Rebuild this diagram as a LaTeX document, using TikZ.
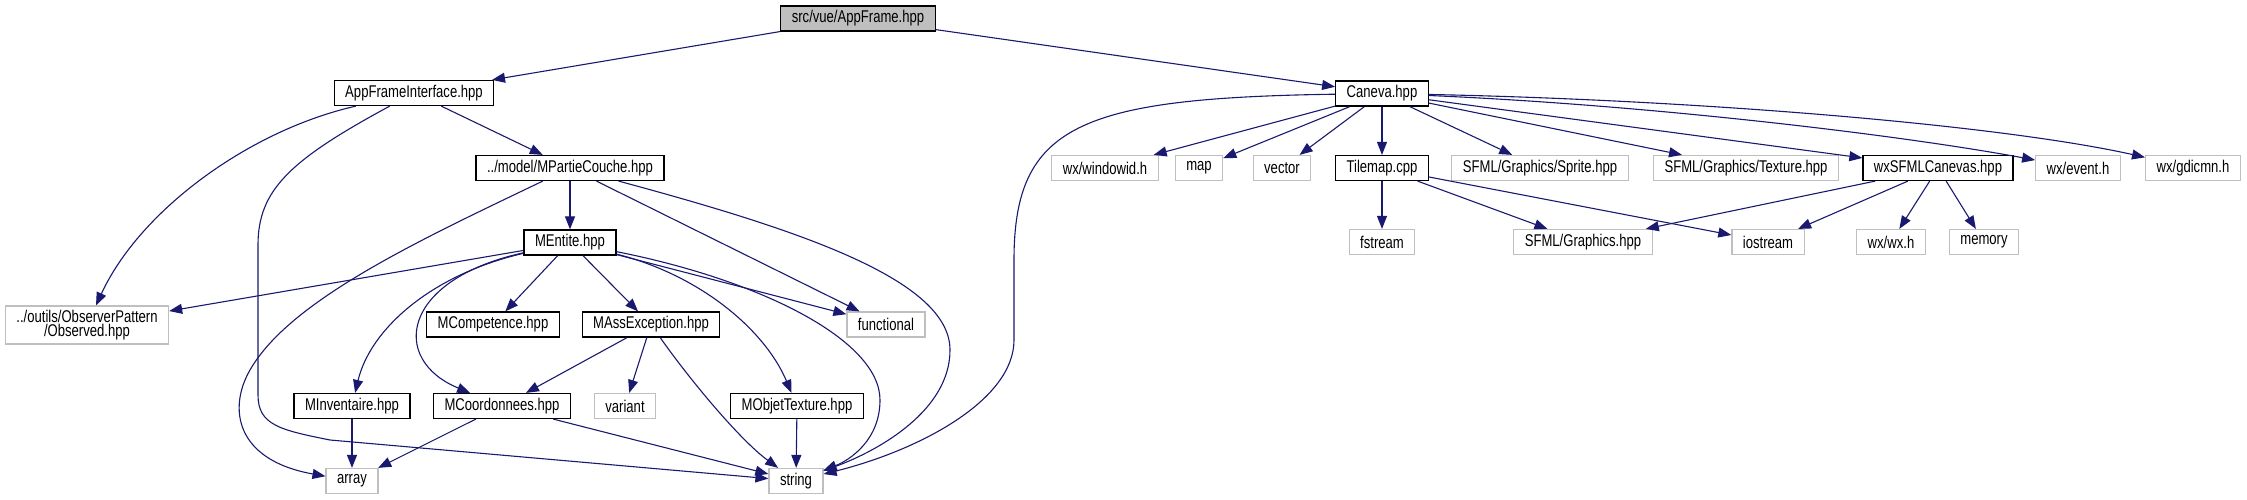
\documentclass[tikz,border=0pt]{standalone}
\usepackage{fontspec}
\setmainfont{Liberation Sans}[FakeStretch=0.77]
\usetikzlibrary{
  arrows.meta % 箭头样式
}
\definecolor{edgeblue}{HTML}{191970}
\definecolor{extgray}{HTML}{BFBFBF}
\tikzset{
  file box/.style={
    draw=black,
    fill=white,
    line width=1.2pt,
    minimum height=25pt,
    inner xsep=11pt,
    inner ysep=3pt,
    font=\fontsize{17}{14}\selectfont
  },
  main box/.style={
    file box,
    fill=extgray
  },
  ext box/.style={
    file box,
    draw=extgray
  },
  dep/.style={
    -{Triangle[length=13pt,width=10pt]},
    color=edgeblue,
    line width=1.1pt
  }
}

\begin{document}
\begin{tikzpicture}[x=1pt, y=-1pt]
  \useasboundingbox (0,0) rectangle (2247,500);

  % ======================= 节点 =======================
  \node[main box] (main) at (858,18.5) {src/vue/AppFrame.hpp};

  \node[file box] (afi)    at (414,93)   {AppFrameInterface.hpp};
  \node[file box] (caneva) at (1382,93.5) {Caneva.hpp};

  \node[file box] (mpc)      at (570,168)  {../model/MPartieCouche.hpp};
  \node[ext box]  (windowid) at (1105,168) {wx/windowid.h};
  \node[ext box]  (map)      at (1199,168) {map};
  \node[ext box]  (vector)   at (1282,168) {vector};
  \node[file box] (tilemap)  at (1382,168) {Tilemap.cpp};
  \node[ext box]  (sprite)   at (1540,168) {SFML/Graphics/Sprite.hpp};
  \node[ext box]  (texture)  at (1746,168) {SFML/Graphics/Texture.hpp};
  \node[file box] (wxsfml)   at (1938,168) {wxSFMLCanevas.hpp};
  \node[ext box]  (event)    at (2078,168) {wx/event.h};
  \node[ext box]  (gdicmn)   at (2193,168) {wx/gdicmn.h};

  \node[file box] (mentite)  at (570,242.5) {MEntite.hpp};
  \node[ext box]  (fstream)  at (1382,242) {fstream};
  \node[ext box]  (graphics) at (1583,242) {SFML/Graphics.hpp};
  \node[ext box]  (iostream) at (1768,242) {iostream};
  \node[ext box]  (wxwx)     at (1891,242) {wx/wx.h};
  \node[ext box]  (memory)   at (1984,242) {memory};

  \node[ext box, align=center, inner ysep=4pt] (obs) at (87,325)
    {../outils/ObserverPattern\\/Observed.hpp};
  \node[file box] (mcomp) at (493,324.5) {MCompetence.hpp};
  \node[file box] (mass)  at (651,324.5) {MAssException.hpp};
  \node[ext box]  (func)  at (886,324.5) {functional};

  \node[file box] (minv)    at (352,406) {MInventaire.hpp};
  \node[file box] (mcoord)  at (502,406) {MCoordonnees.hpp};
  \node[ext box]  (variant) at (625,406) {variant};
  \node[file box] (mobj)    at (797,406) {MObjetTexture.hpp};

  \node[ext box] (array)  at (352,481) {array};
  \node[ext box] (string) at (796,481) {string};

  % ======================= 左侧依赖 =======================
  \draw[dep] (main) -- (afi);
  \draw[dep] (afi) .. controls (250,130) and (140,210) .. (obs);
  \draw[dep] (afi) .. controls (290,160) and (258,190) .. (258,245)
    -- (258,395) .. controls (258,425) and (280,430) .. (330,440) -- (string);
  \draw[dep] (afi) -- (mpc);

  \draw[dep] (mpc) .. controls (420,240) and (290,300) .. (250,370)
    .. controls (228,408) and (235,460) .. (array);
  \draw[dep] (mpc) -- (mentite);
  \draw[dep] (mpc) -- (func);
  \draw[dep] (mpc) .. controls (800,230) and (950,280) .. (950,350)
    .. controls (950,410) and (880,450) .. (string);

  \draw[dep] (mentite) -- (obs);
  \draw[dep] (mentite) -- (mcomp);
  \draw[dep] (mentite) -- (mass);
  \draw[dep] (mentite) -- (func);
  \draw[dep] (mentite) .. controls (430,275) and (370,330) .. (minv);
  \draw[dep] (mentite) .. controls (400,280) and (390,360) .. (mcoord);
  \draw[dep] (mentite) .. controls (700,275) and (765,330) .. (mobj);
  \draw[dep] (mentite) .. controls (760,280) and (880,340) .. (880,400)
    .. controls (880,440) and (850,460) .. (string);

  \draw[dep] (mass) -- (mcoord);
  \draw[dep] (mass) -- (variant);
  \draw[dep] (mass) .. controls (690,380) and (740,440) .. (string);

  \draw[dep] (minv) -- (array);
  \draw[dep] (mcoord) -- (array);
  \draw[dep] (mcoord) -- (string);
  \draw[dep] (mobj) -- (string);

  % ======================= 右侧依赖 =======================
  \draw[dep] (main) -- (caneva);
  \draw[dep] (caneva) .. controls (1080,98) and (1014,125) .. (1014,260)
    -- (1014,340) .. controls (1014,400) and (920,450) .. (string);
  \draw[dep] (caneva) -- (windowid);
  \draw[dep] (caneva) -- (map);
  \draw[dep] (caneva) -- (vector);
  \draw[dep] (caneva) -- (tilemap);
  \draw[dep] (caneva) -- (sprite);
  \draw[dep] (caneva) -- (texture);
  \draw[dep] (caneva) -- (wxsfml);
  \draw[dep] (caneva) .. controls (1650,105) and (1900,135) .. (event);
  \draw[dep] (caneva) .. controls (1700,100) and (2000,125) .. (gdicmn);

  \draw[dep] (tilemap) -- (fstream);
  \draw[dep] (tilemap) -- (graphics);
  \draw[dep] (tilemap) -- (iostream);

  \draw[dep] (wxsfml) -- (graphics);
  \draw[dep] (wxsfml) -- (iostream);
  \draw[dep] (wxsfml) -- (wxwx);
  \draw[dep] (wxsfml) -- (memory);
\end{tikzpicture}
\end{document}
